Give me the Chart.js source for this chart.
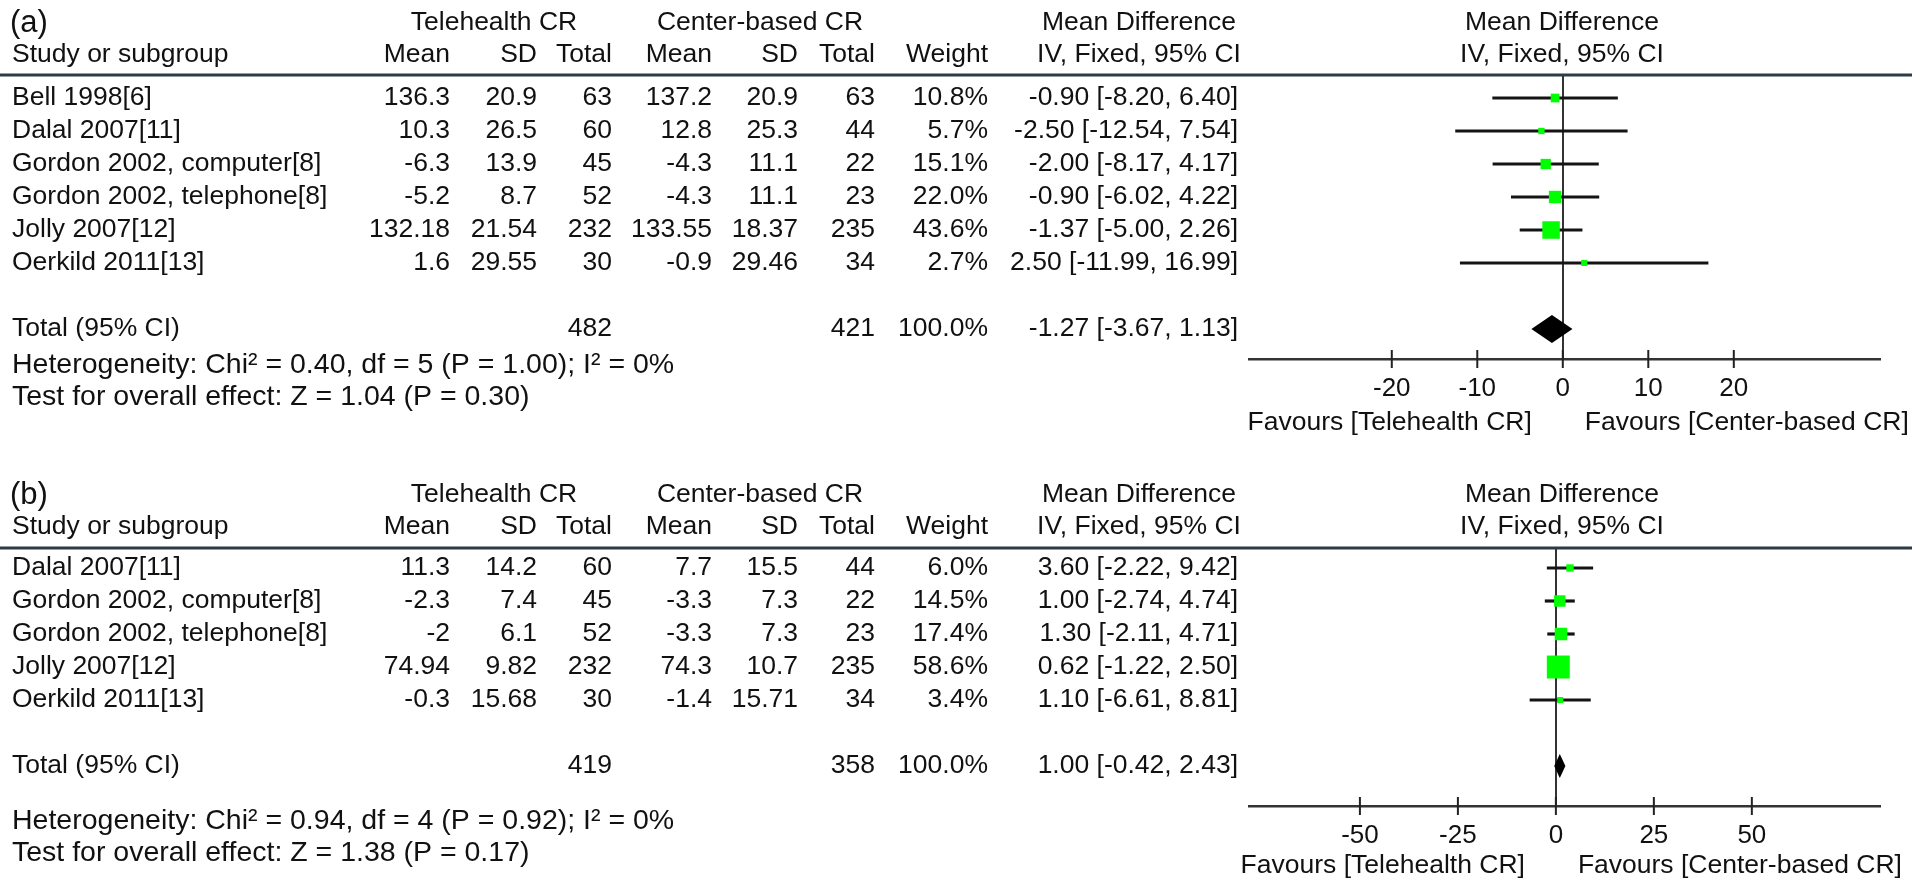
<!DOCTYPE html>
<html>
<head>
<meta charset="utf-8">
<script src="https://cdn.jsdelivr.net/npm/chart.js@4.4.1/dist/chart.umd.min.js"></script>
<style>
  html, body { margin: 0; padding: 0; background: #fff; }
  #wrap { position: relative; width: 1912px; height: 881px; overflow: hidden; }
  canvas { position: absolute; left: 0; }
  #plotA { top: 0; }
  #plotB { top: 440px; }
</style>
</head>
<body>
<div id="wrap">
  <canvas id="plotA" width="1912" height="440"></canvas>
  <canvas id="plotB" width="1912" height="441"></canvas>
</div>
<script>
// ---- panel (a) data ----
const studiesA = ['Bell 1998[6]', 'Dalal 2007[11]', 'Gordon 2002, computer[8]', 'Gordon 2002, telephone[8]', 'Jolly 2007[12]', 'Oerkild 2011[13]'];
const teleMeanA = [136.3, 10.3, -6.3, -5.2, 132.18, 1.6];
const teleSdA = [20.9, 26.5, 13.9, 8.7, 21.54, 29.55];
const teleNA = [63, 60, 45, 52, 232, 30];
const centerMeanA = [137.2, 12.8, -4.3, -4.3, 133.55, -0.9];
const centerSdA = [20.9, 25.3, 11.1, 11.1, 18.37, 29.46];
const centerNA = [63, 44, 22, 23, 235, 34];
const weightA = [10.8, 5.7, 15.1, 22.0, 43.6, 2.7];
const mdA = [-0.90, -2.50, -2.00, -0.90, -1.37, 2.50];
const loA = [-8.20, -12.54, -8.17, -6.02, -5.00, -11.99];
const hiA = [6.40, 7.54, 4.17, 4.22, 2.26, 16.99];
const totalNA = [482, 421];
const totalCiA = [-1.27, -3.67, 1.13];
const hetA = 'Heterogeneity: Chi² = 0.40, df = 5 (P = 1.00); I² = 0%';
const overallA = 'Test for overall effect: Z = 1.04 (P = 0.30)';
const ticksA = [-20, -10, 0, 10, 20];

// ---- panel (b) data ----
const studiesB = ['Dalal 2007[11]', 'Gordon 2002, computer[8]', 'Gordon 2002, telephone[8]', 'Jolly 2007[12]', 'Oerkild 2011[13]'];
const teleMeanB = [11.3, -2.3, -2, 74.94, -0.3];
const teleSdB = [14.2, 7.4, 6.1, 9.82, 15.68];
const teleNB = [60, 45, 52, 232, 30];
const centerMeanB = [7.7, -3.3, -3.3, 74.3, -1.4];
const centerSdB = [15.5, 7.3, 7.3, 10.7, 15.71];
const centerNB = [44, 22, 23, 235, 34];
const weightB = [6.0, 14.5, 17.4, 58.6, 3.4];
const mdB = [3.60, 1.00, 1.30, 0.62, 1.10];
const loB = [-2.22, -2.74, -2.11, -1.22, -6.61];
const hiB = [9.42, 4.74, 4.71, 2.50, 8.81];
const totalNB = [419, 358];
const totalCiB = [1.00, -0.42, 2.43];
const hetB = 'Heterogeneity: Chi² = 0.94, df = 4 (P = 0.92); I² = 0%';
const overallB = 'Test for overall effect: Z = 1.38 (P = 0.17)';
const ticksB = [-50, -25, 0, 25, 50];

const FONT = '"Liberation Sans", Arial, Helvetica, sans-serif';
const INK = '#111';
const TXT = 26.5;
// right edges of the table columns
const COL = { teleMean: 450, teleSd: 537, teleN: 612, centerMean: 712, centerSd: 798, centerN: 875, weight: 988, ci: 1238 };

function ciText(m, l, h) {
  return m.toFixed(2) + ' [' + l.toFixed(2) + ', ' + h.toFixed(2) + ']';
}

function forestPlugin(p) {
  return {
    id: 'forest' + p.tag,
    afterDraw(chart) {
      const ctx = chart.ctx;
      const x = chart.scales.x, y = chart.scales.y;
      const area = chart.chartArea;
      const txt = (s, px, py, align, size) => {
        ctx.font = (size || TXT) + 'px ' + FONT;
        ctx.textAlign = align;
        ctx.fillText(s, px, py);
      };
      ctx.save();
      ctx.fillStyle = INK;
      ctx.textBaseline = 'middle';

      // headers
      txt(p.label, 10, p.h1, 'left', 31);
      txt('Telehealth CR', 494, p.h1, 'center');
      txt('Center-based CR', 760, p.h1, 'center');
      txt('Mean Difference', 1139, p.h1, 'center');
      txt('Mean Difference', 1562, p.h1, 'center');
      txt('Study or subgroup', 12, p.h2, 'left');
      txt('Mean', COL.teleMean, p.h2, 'right');
      txt('SD', COL.teleSd, p.h2, 'right');
      txt('Total', COL.teleN, p.h2, 'right');
      txt('Mean', COL.centerMean, p.h2, 'right');
      txt('SD', COL.centerSd, p.h2, 'right');
      txt('Total', COL.centerN, p.h2, 'right');
      txt('Weight', COL.weight, p.h2, 'right');
      txt('IV, Fixed, 95% CI', 1139, p.h2, 'center');
      txt('IV, Fixed, 95% CI', 1562, p.h2, 'center');

      // study rows
      p.studies.forEach((s, i) => {
        const py = y.getPixelForValue(i);
        txt(s, 12, py, 'left');
        txt(String(p.teleMean[i]), COL.teleMean, py, 'right');
        txt(String(p.teleSd[i]), COL.teleSd, py, 'right');
        txt(String(p.teleN[i]), COL.teleN, py, 'right');
        txt(String(p.centerMean[i]), COL.centerMean, py, 'right');
        txt(String(p.centerSd[i]), COL.centerSd, py, 'right');
        txt(String(p.centerN[i]), COL.centerN, py, 'right');
        txt(p.weight[i].toFixed(1) + '%', COL.weight, py, 'right');
        txt(ciText(p.md[i], p.lo[i], p.hi[i]), COL.ci, py, 'right');
      });

      // total row
      const tRow = p.studies.length + 1;
      const ty = y.getPixelForValue(tRow);
      txt('Total (95% CI)', 12, ty, 'left');
      txt(String(p.totalN[0]), COL.teleN, ty, 'right');
      txt(String(p.totalN[1]), COL.centerN, ty, 'right');
      txt('100.0%', COL.weight, ty, 'right');
      txt(ciText(p.totalCi[0], p.totalCi[1], p.totalCi[2]), COL.ci, ty, 'right');

      // footers
      txt(p.het, 12, p.f1, 'left', 28.5);
      txt(p.overall, 12, p.f2, 'left', 28.5);

      // summary diamond
      ctx.beginPath();
      ctx.moveTo(x.getPixelForValue(p.totalCi[1]), ty);
      ctx.lineTo(x.getPixelForValue(p.totalCi[0]), ty - p.dh);
      ctx.lineTo(x.getPixelForValue(p.totalCi[2]), ty);
      ctx.lineTo(x.getPixelForValue(p.totalCi[0]), ty + p.dh);
      ctx.closePath();
      ctx.fillStyle = '#000';
      ctx.fill();

      // header rule across the whole figure
      ctx.strokeStyle = '#2e3b47';
      ctx.lineWidth = 3;
      ctx.beginPath();
      ctx.moveTo(0, area.top);
      ctx.lineTo(chart.width, area.top);
      ctx.stroke();

      // tick marks crossing the axis
      ctx.strokeStyle = '#222';
      ctx.lineWidth = 2;
      x.ticks.forEach(t => {
        const px = x.getPixelForValue(t.value);
        ctx.beginPath();
        ctx.moveTo(px, area.bottom - 9);
        ctx.lineTo(px, area.bottom + 9);
        ctx.stroke();
      });

      // favours labels
      const zx = x.getPixelForValue(0);
      ctx.fillStyle = INK;
      txt('Favours [Telehealth CR]', zx - 31, p.fav, 'right');
      txt('Favours [Center-based CR]', zx + 22, p.fav, 'left');
      ctx.restore();
    }
  };
}

function makeForest(canvasId, p) {
  return new Chart(document.getElementById(canvasId), {
    type: 'scatter',
    data: {
      datasets: [
        {
          type: 'scatter',
          data: p.md.map((v, i) => ({ x: v, y: i })),
          pointStyle: 'rect',
          pointRadius: p.weight.map(w => Math.max(6, p.box * Math.sqrt(w)) / Math.SQRT2),
          backgroundColor: '#00ff00',
          borderWidth: 0,
          order: 0
        },
        {
          type: 'bar',
          indexAxis: 'y',
          data: p.lo.map((v, i) => ({ x: [v, p.hi[i]], y: i })),
          barThickness: 2.5,
          backgroundColor: '#141414',
          order: 1
        }
      ]
    },
    options: {
      responsive: false,
      devicePixelRatio: 1,
      animation: false,
      layout: { padding: { top: p.top, left: 1249, right: 32, bottom: p.bottom } },
      plugins: { legend: { display: false }, tooltip: { enabled: false } },
      scales: {
        x: {
          type: 'linear',
          offset: false,
          min: p.xmin,
          max: p.xmax,
          afterBuildTicks: s => { s.ticks = p.ticks.map(v => ({ value: v })); },
          afterFit: s => { s.height = 40; },
          ticks: {
            autoSkip: false, maxRotation: 0, padding: 14, color: INK,
            font: { family: FONT, size: 26 },
            callback: v => String(v)
          },
          grid: {
            offset: false,
            drawTicks: false,
            lineWidth: 2,
            color: c => (c.tick && c.tick.value === 0) ? '#333' : 'rgba(0,0,0,0)'
          },
          border: { display: true, color: '#333', width: 2.5 }
        },
        y: {
          type: 'linear', reverse: true, offset: false,
          min: p.ymin, max: p.ymax, display: false,
          grid: { offset: false }
        }
      }
    },
    plugins: [forestPlugin(p)]
  });
}

makeForest('plotA', {
  tag: 'A', label: '(a)',
  studies: studiesA, teleMean: teleMeanA, teleSd: teleSdA, teleN: teleNA,
  centerMean: centerMeanA, centerSd: centerSdA, centerN: centerNA,
  weight: weightA, md: mdA, lo: loA, hi: hiA,
  totalN: totalNA, totalCi: totalCiA, het: hetA, overall: overallA, ticks: ticksA,
  h1: 23, h2: 55, f1: 365, f2: 397, fav: 423,
  top: 75, bottom: 41, ymin: -0.697, ymax: 7.909,
  xmin: -36.7, xmax: 37.1, box: 2.65, dh: 14
});

makeForest('plotB', {
  tag: 'B', label: '(b)',
  studies: studiesB, teleMean: teleMeanB, teleSd: teleSdB, teleN: teleNB,
  centerMean: centerMeanB, centerSd: centerSdB, centerN: centerNB,
  weight: weightB, md: mdB, lo: loB, hi: hiB,
  totalN: totalNB, totalCi: totalCiB, het: hetB, overall: overallB, ticks: ticksB,
  h1: 55, h2: 87, f1: 381, f2: 413, fav: 426,
  top: 108, bottom: 35, ymin: -0.606, ymax: 7.212,
  xmin: -78.3, xmax: 82.7, box: 3.0, dh: 12
});
</script>
</body>
</html>
